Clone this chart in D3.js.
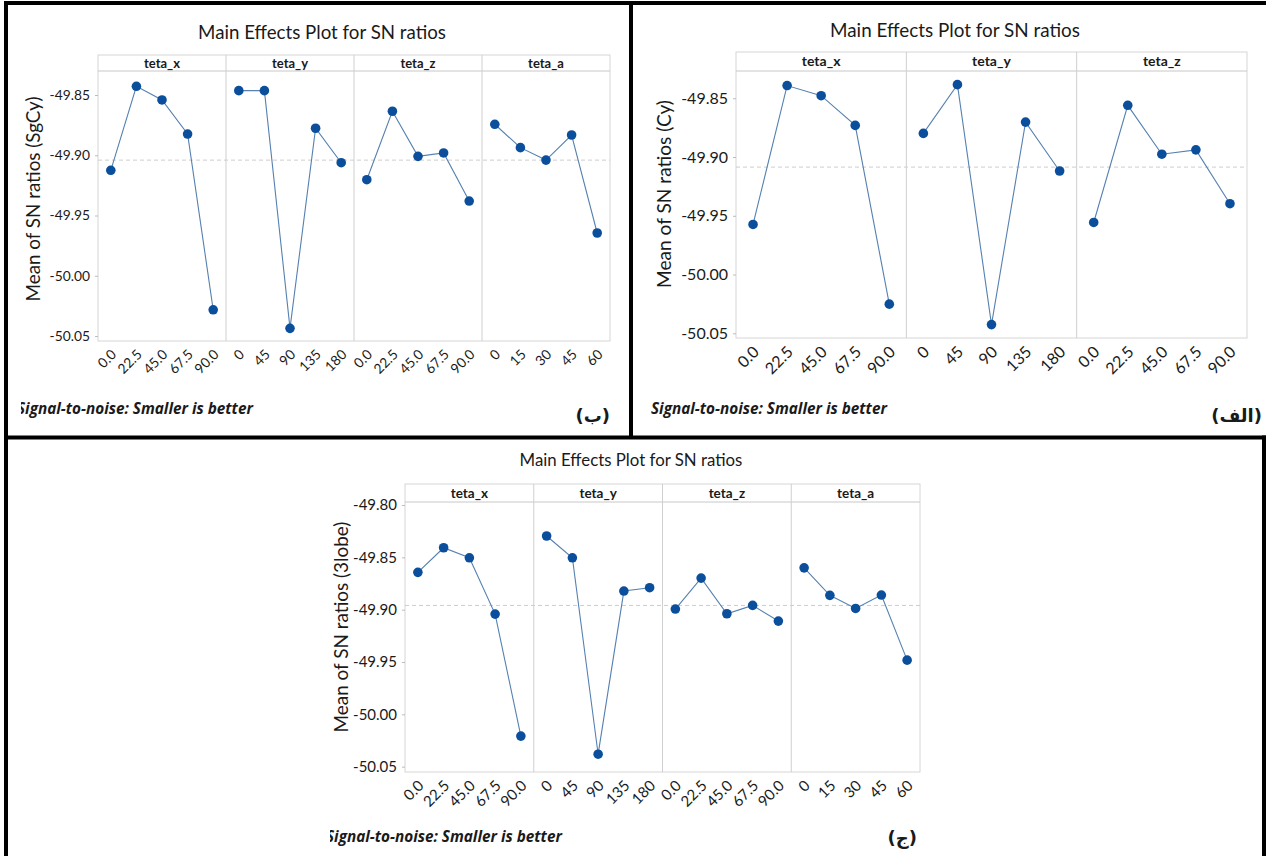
<!DOCTYPE html>
<html>
<head>
<meta charset="utf-8">
<script src="https://cdn.jsdelivr.net/npm/d3@7"></script>
<style>
body { margin: 0; background: #fff; }
svg text { font-family: Lato, "Noto Sans", sans-serif; fill: #1a1a1a; }
</style>
</head>
<body>
<div id="chart"></div>
<script>
// factor names and level labels
var factorNames = ["teta_x", "teta_y", "teta_z", "teta_a"];
var tetaXLevels = ["0.0", "22.5", "45.0", "67.5", "90.0"];
var tetaYLevels = ["0", "45", "90", "135", "180"];
var tetaZLevels = ["0.0", "22.5", "45.0", "67.5", "90.0"];
var tetaALevels = ["0", "15", "30", "45", "60"];
var yTicks = [-49.85, -49.90, -49.95, -50.00, -50.05];
var yTicksLobe = [-49.80, -49.85, -49.90, -49.95, -50.00, -50.05];

// (b) mean SN ratios, SgCy
var sgcyX = [-49.9125, -49.8428, -49.8541, -49.8824, -50.0282];
var sgcyY = [-49.8464, -49.8464, -50.0436, -49.8776, -49.9062];
var sgcyZ = [-49.9203, -49.8635, -49.9009, -49.8981, -49.9380];
var sgcyA = [-49.8743, -49.8937, -49.9040, -49.8832, -49.9645];

// (alef) mean SN ratios, Cy
var cyX = [-49.9574, -49.8392, -49.8478, -49.8731, -50.0252];
var cyY = [-49.8799, -49.8384, -50.0426, -49.8703, -49.9119];
var cyZ = [-49.9557, -49.8560, -49.8976, -49.8939, -49.9397];

// (j) mean SN ratios, 3lobe
var lobeX = [-49.8643, -49.8408, -49.8504, -49.9042, -50.0208];
var lobeY = [-49.8296, -49.8504, -50.0381, -49.8822, -49.8790];
var lobeZ = [-49.8994, -49.8698, -49.9039, -49.8959, -49.9109];
var lobeA = [-49.8600, -49.8863, -49.8988, -49.8860, -49.9482];

var svg = d3.select("#chart")
	.append("svg")
	.attr("width", 1266)
	.attr("height", 856);

var blue = "#0b4f9c";
var lineBlue = "#5580b0";

// shrink/grow a text so it is as wide as the scan
function fitText(sel, size, width) {
	sel.style("font-size", size + "px");
	var w = sel.node().getComputedTextLength();
	sel.style("font-size", (size * width / w) + "px");
}

function drawChart(cfg) {
	var g = svg.append("g");
	var plotTop = cfg.top + cfg.stripH;
	var y = d3.scaleLinear().domain(cfg.yDomain).range([cfg.bottom, plotTop]);
	var panelW = (cfg.right - cfg.left) / cfg.factors.length;
	var mean = d3.mean(d3.merge(cfg.factors.map(function(f){ return f.values; })));

	var title = g.append("text")
		.attr("x", cfg.titleX).attr("y", cfg.titleY)
		.attr("text-anchor", "middle")
		.text("Main Effects Plot for SN ratios");
	fitText(title, 17, cfg.titleW);

	// frame + strip line
	g.append("rect")
		.attr("x", cfg.left).attr("y", cfg.top)
		.attr("width", cfg.right - cfg.left).attr("height", cfg.bottom - cfg.top)
		.attr("fill", "none").attr("stroke", "#d6d6d6");
	g.append("line")
		.attr("x1", cfg.left).attr("x2", cfg.right)
		.attr("y1", plotTop).attr("y2", plotTop)
		.attr("stroke", "#c8c8c8");

	// reference line at grand mean
	g.append("line")
		.attr("x1", cfg.left).attr("x2", cfg.right)
		.attr("y1", y(mean)).attr("y2", y(mean))
		.attr("stroke", "#cdcdcd").attr("stroke-dasharray", "4,3");

	var yAxis = g.append("g")
		.attr("transform", "translate(" + cfg.left + ",0)")
		.call(d3.axisLeft(y).tickValues(cfg.ticks).tickSize(3).tickPadding(5)
			.tickFormat(function(d){ return d.toFixed(2); }));
	yAxis.select(".domain").remove();
	yAxis.selectAll("line").attr("stroke", "#bbb");
	yAxis.selectAll("text").style("font-size", cfg.tickFont + "px").attr("fill", "#222");

	var ylab = g.append("text")
		.attr("transform", "translate(" + cfg.ylabX + "," + cfg.ylabY + ") rotate(-90)")
		.attr("text-anchor", "middle")
		.text(cfg.ylabel);
	fitText(ylab, 19, cfg.ylabW);

	cfg.factors.forEach(function(f, i){
		var x0 = cfg.left + i * panelW;
		var x = d3.scalePoint().domain(f.levels).range([x0, x0 + panelW]).padding(0.5);
		var pts = f.levels.map(function(l, j){ return {l: l, v: f.values[j]}; });

		if (i > 0) {
			g.append("line")
				.attr("x1", x0).attr("x2", x0)
				.attr("y1", cfg.top).attr("y2", cfg.bottom)
				.attr("stroke", "#cfcfcf");
		}
		g.append("text")
			.attr("x", x0 + panelW / 2).attr("y", cfg.top + cfg.stripH / 2)
			.attr("dy", "0.35em")
			.attr("text-anchor", "middle")
			.style("font-size", cfg.stripFont + "px").style("font-weight", "bold")
			.attr("fill", "#2a2a2a")
			.text(f.name);

		g.append("path")
			.datum(pts)
			.attr("fill", "none")
			.attr("stroke", lineBlue)
			.attr("stroke-width", 1.1)
			.attr("d", d3.line().x(function(d){ return x(d.l); }).y(function(d){ return y(d.v); }));

		g.selectAll(null)
			.data(pts)
			.enter()
			.append("circle")
			.attr("cx", function(d){ return x(d.l); })
			.attr("cy", function(d){ return y(d.v); })
			.attr("r", 4.8)
			.attr("fill", blue);

		g.selectAll(null)
			.data(f.levels)
			.enter()
			.append("text")
			.attr("transform", function(d){ return "translate(" + (x(d) + 3) + "," + (cfg.bottom + 11) + ") rotate(-45)"; })
			.attr("text-anchor", "end")
			.attr("dy", "0.35em")
			.style("font-size", cfg.tickFont + "px")
			.attr("fill", "#222")
			.text(function(d){ return d; });
	});

	// footer, cropped on the left like the scan
	var clipId = "clip" + cfg.id;
	svg.append("clipPath").attr("id", clipId)
		.append("rect").attr("x", cfg.clipX).attr("y", cfg.footY - 20).attr("width", 300).attr("height", 30);
	var foot = g.append("text")
		.attr("clip-path", "url(#" + clipId + ")")
		.attr("x", cfg.footX).attr("y", cfg.footY)
		.style("font-family", "'Open Sans', sans-serif")
		.style("font-weight", "bold").style("font-style", "italic")
		.text("Signal-to-noise: Smaller is better");
	fitText(foot, 14, 236);

	g.append("text")
		.attr("x", cfg.tagX).attr("y", cfg.tagY)
		.attr("text-anchor", "end")
		.style("font-family", "'DejaVu Sans', sans-serif")
		.style("font-size", "18px").style("font-weight", "bold")
		.text(cfg.tag);
}

drawChart({
	id: "b", left: 98, right: 610, top: 55, stripH: 16, bottom: 341,
	yDomain: [-50.0541, -49.8301], ticks: yTicks, tickFont: 13.8, stripFont: 13,
	titleX: 322, titleY: 39, titleW: 248,
	ylabX: 40, ylabY: 199, ylabW: 205, ylabel: "Mean of SN ratios (SgCy)",
	footX: 17, footY: 414, clipX: 21, tagX: 610, tagY: 422, tag: "(ب)",
	factors: [
		{name: factorNames[0], levels: tetaXLevels, values: sgcyX},
		{name: factorNames[1], levels: tetaYLevels, values: sgcyY},
		{name: factorNames[2], levels: tetaZLevels, values: sgcyZ},
		{name: factorNames[3], levels: tetaALevels, values: sgcyA}
	]
});

drawChart({
	id: "a", left: 736, right: 1247, top: 52, stripH: 19, bottom: 338,
	yDomain: [-50.054, -49.8268], ticks: yTicks, tickFont: 16, stripFont: 14,
	titleX: 955, titleY: 37, titleW: 250,
	ylabX: 671, ylabY: 194, ylabW: 188, ylabel: "Mean of SN ratios (Cy)",
	footX: 651, footY: 414, clipX: 640, tagX: 1262, tagY: 422, tag: "(الف)",
	factors: [
		{name: factorNames[0], levels: tetaXLevels, values: cyX},
		{name: factorNames[1], levels: tetaYLevels, values: cyY},
		{name: factorNames[2], levels: tetaZLevels, values: cyZ}
	]
});

drawChart({
	id: "j", left: 405, right: 920, top: 484, stripH: 18, bottom: 772,
	yDomain: [-50.0551, -49.7971], ticks: yTicksLobe, tickFont: 15, stripFont: 13.5,
	titleX: 631, titleY: 466, titleW: 223,
	ylabX: 348, ylabY: 627, ylabW: 211, ylabel: "Mean of SN ratios (3lobe)",
	footX: 326, footY: 842, clipX: 330, tagX: 917, tagY: 844, tag: "(ج)",
	factors: [
		{name: factorNames[0], levels: tetaXLevels, values: lobeX},
		{name: factorNames[1], levels: tetaYLevels, values: lobeY},
		{name: factorNames[2], levels: tetaZLevels, values: lobeZ},
		{name: factorNames[3], levels: tetaALevels, values: lobeA}
	]
});

// black frame lines between the three figures
var frame = [[4, 1, 1262, 4], [4, 1, 4, 855], [629, 1, 4, 437], [4, 435.5, 1262, 4], [1262, 435.5, 4, 421]];
svg.selectAll(".frame")
	.data(frame)
	.enter()
	.append("rect")
	.attr("x", function(d){ return d[0]; })
	.attr("y", function(d){ return d[1]; })
	.attr("width", function(d){ return d[2]; })
	.attr("height", function(d){ return d[3]; })
	.attr("fill", "#000");
</script>
</body>
</html>
